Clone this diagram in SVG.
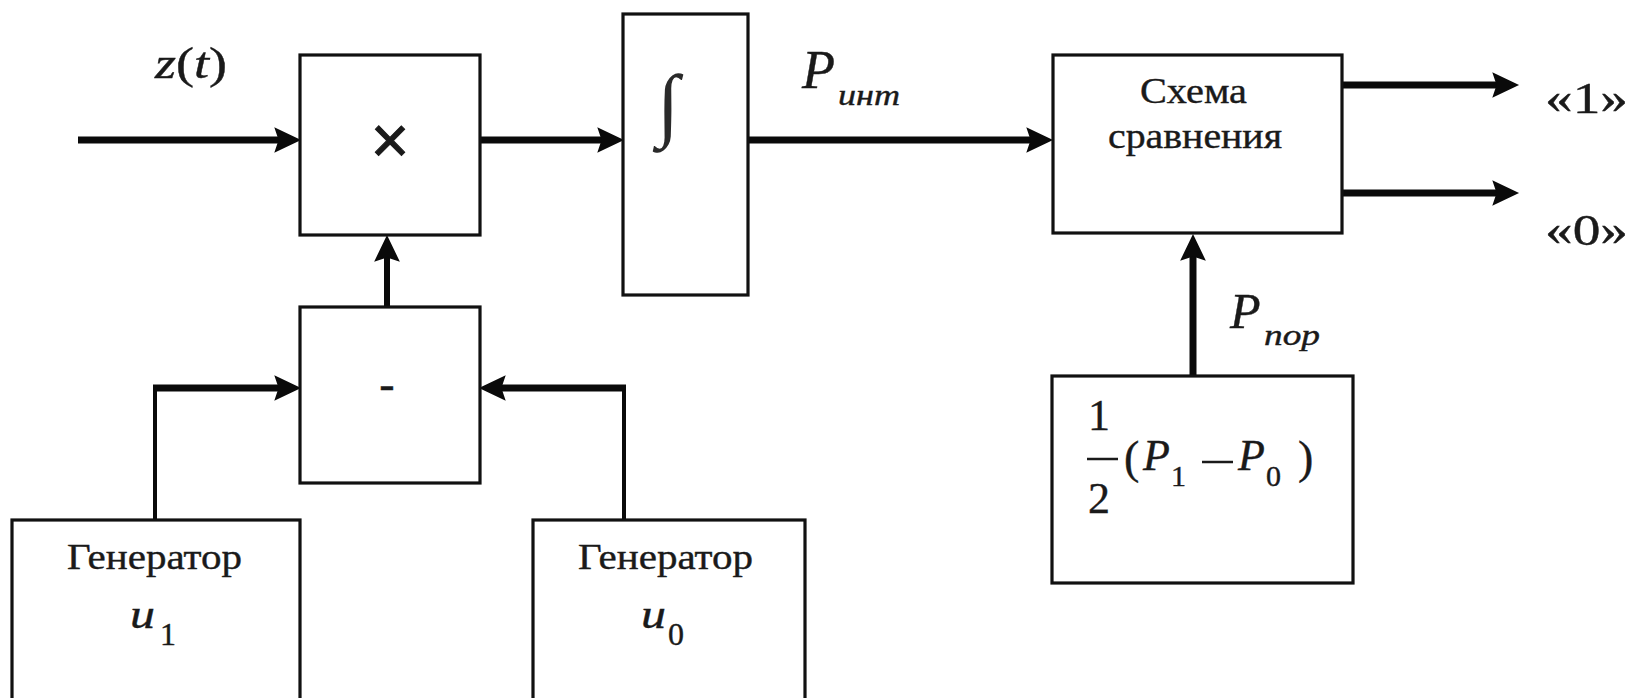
<svg xmlns="http://www.w3.org/2000/svg" width="1633" height="698" viewBox="0 0 1633 698">
  <style>
    .box { fill: #ffffff; stroke: #111111; stroke-width: 3.2; }
    .wire { fill: none; stroke: #0a0a0a; stroke-width: 7; }
    .thin { fill: none; stroke: #0a0a0a; stroke-width: 4; }
    .t { font-family: "Liberation Serif", "Times New Roman", serif; fill: #1a1a1a; stroke: #1a1a1a; stroke-width: 0.4; }
    .i { font-style: italic; }
  </style>
  <defs>
    <marker id="head" markerUnits="userSpaceOnUse" markerWidth="30" markerHeight="30" viewBox="0 -14 28 28" refX="10" refY="0" orient="auto">
      <path d="M0,-12 L25,0 L0,12 L4,0 Z" fill="#0a0a0a"/>
    </marker>
  </defs>

  <rect width="1633" height="698" fill="#ffffff"/>

  <!-- connectors -->
  <g id="connectors">
    <line class="wire" x1="78" y1="140" x2="285" y2="140" marker-end="url(#head)"/>
    <line class="wire" x1="480" y1="140" x2="608" y2="140" marker-end="url(#head)"/>
    <line class="wire" x1="748" y1="140" x2="1037" y2="140" marker-end="url(#head)"/>
    <line class="wire" x1="1342" y1="85" x2="1503" y2="85" marker-end="url(#head)"/>
    <line class="wire" x1="1342" y1="193" x2="1503" y2="193" marker-end="url(#head)"/>
    <line class="wire" x1="1193" y1="376" x2="1193" y2="250" marker-end="url(#head)"/>
    <line class="wire" style="stroke-width:6" x1="387" y1="307" x2="387" y2="251" marker-end="url(#head)"/>
    <line class="thin" x1="155" y1="520" x2="155" y2="388"/>
    <line class="wire" x1="153" y1="388" x2="285" y2="388" marker-end="url(#head)"/>
    <line class="thin" x1="624" y1="520" x2="624" y2="388"/>
    <line class="wire" x1="626" y1="388" x2="495" y2="388" marker-end="url(#head)"/>
  </g>

  <!-- input signal label -->
  <g id="input-label">
    <text class="t" x="155" y="78" font-size="44" textLength="72" lengthAdjust="spacingAndGlyphs"><tspan class="i">z</tspan>(<tspan class="i">t</tspan>)</text>
  </g>

  <!-- multiplier -->
  <g id="multiplier">
    <rect class="box" x="300" y="55" width="180" height="180"/>
    <text x="390" y="163" font-family="Liberation Sans, Arial, sans-serif" font-size="66" text-anchor="middle" fill="#1a1a1a" stroke="#1a1a1a" stroke-width="1">×</text>
  </g>

  <!-- integrator -->
  <g id="integrator">
    <rect class="box" x="623" y="14" width="125" height="281"/>
    <text x="668" y="131" font-family="Liberation Serif, serif" font-size="81" text-anchor="middle" fill="#2a2a2a">∫</text>
  </g>

  <!-- integrator output label -->
  <g id="label-pint">
    <text class="t i" x="802" y="88" font-size="54">P<tspan x="838" y="105" font-size="29" textLength="62" lengthAdjust="spacingAndGlyphs">инт</tspan></text>
  </g>

  <!-- comparator -->
  <g id="comparator">
    <rect class="box" x="1053" y="55" width="289" height="178"/>
    <text class="t" x="1140" y="103" font-size="36" textLength="107" lengthAdjust="spacingAndGlyphs">Схема</text>
    <text class="t" x="1108" y="148" font-size="36" textLength="174" lengthAdjust="spacingAndGlyphs">сравнения</text>
  </g>

  <!-- outputs -->
  <g id="outputs">
    <text class="t" x="1545" y="113" font-size="44" textLength="83" lengthAdjust="spacingAndGlyphs">«1»</text>
    <text class="t" x="1545" y="245" font-size="44" textLength="83" lengthAdjust="spacingAndGlyphs">«0»</text>
  </g>

  <!-- threshold label -->
  <g id="label-ppor">
    <text class="t i" x="1230" y="328" font-size="50">P<tspan x="1264" y="345" font-size="29" textLength="56" lengthAdjust="spacingAndGlyphs">пор</tspan></text>
  </g>

  <!-- threshold block: 1/2 (P1 - P0) -->
  <g id="threshold">
    <rect class="box" x="1052" y="376" width="301" height="207"/>
    <text class="t" x="1088" y="430" font-size="44">1</text>
    <line x1="1087" y1="459" x2="1118" y2="459" stroke="#1a1a1a" stroke-width="2.5"/>
    <text class="t" x="1088" y="513" font-size="44">2</text>
    <text class="t" x="1124" y="473" font-size="46">(</text>
    <text class="t" x="1143" y="470" font-size="44"><tspan class="i">P</tspan><tspan x="1171" y="486" font-size="30">1</tspan></text>
    <line x1="1202" y1="462" x2="1233" y2="462" stroke="#1a1a1a" stroke-width="2.5"/>
    <text class="t" x="1238" y="470" font-size="44"><tspan class="i">P</tspan><tspan x="1266" y="486" font-size="30">0</tspan></text>
    <text class="t" x="1298" y="473" font-size="46">)</text>
  </g>

  <!-- subtractor -->
  <g id="subtractor">
    <rect class="box" x="300" y="307" width="180" height="176"/>
    <text class="t" x="387" y="399" font-size="46" text-anchor="middle">-</text>
  </g>

  <!-- generator u1 -->
  <g id="generator-u1">
    <rect class="box" x="12" y="520" width="288" height="200"/>
    <text class="t" x="67" y="569" font-size="36" textLength="175" lengthAdjust="spacingAndGlyphs">Генератор</text>
    <text class="t" x="130" y="628" font-size="42"><tspan class="i" textLength="25" lengthAdjust="spacingAndGlyphs">u</tspan><tspan x="160" y="645" font-size="32">1</tspan></text>
  </g>

  <!-- generator u0 -->
  <g id="generator-u0">
    <rect class="box" x="533" y="520" width="272" height="200"/>
    <text class="t" x="578" y="569" font-size="36" textLength="175" lengthAdjust="spacingAndGlyphs">Генератор</text>
    <text class="t" x="641" y="628" font-size="42"><tspan class="i" textLength="25" lengthAdjust="spacingAndGlyphs">u</tspan><tspan x="668" y="645" font-size="32">0</tspan></text>
  </g>
</svg>
